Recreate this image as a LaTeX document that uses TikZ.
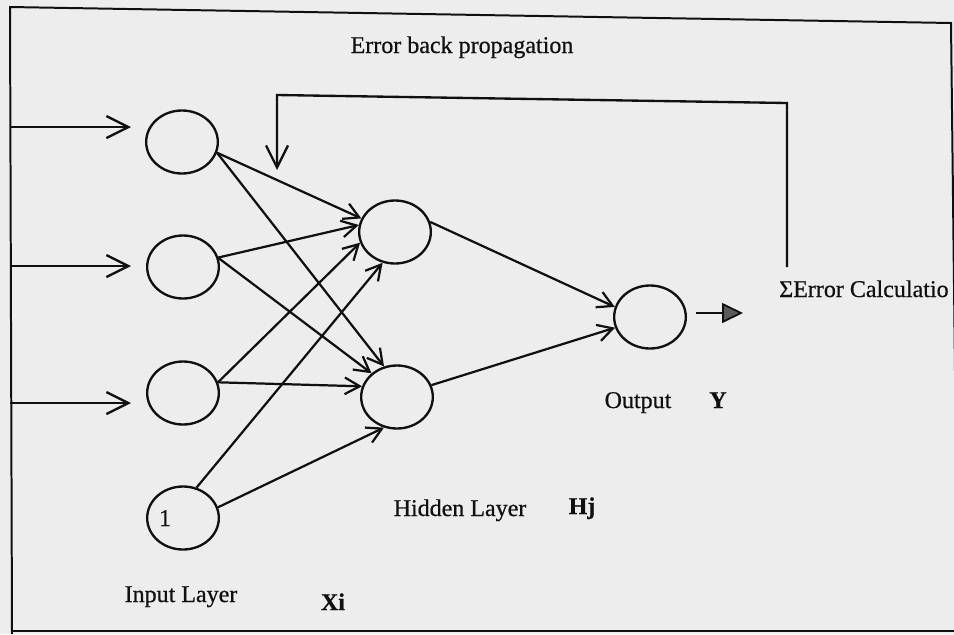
\documentclass[tikz,border=0pt]{standalone}
\usepackage{fontspec}
\setmainfont{Liberation Serif}[FakeBold=0.6]
\usetikzlibrary{arrows.meta,shapes.geometric}
\definecolor{nnink}{HTML}{101010}
\definecolor{nnpaper}{HTML}{EDEDED}
\definecolor{nngrey}{HTML}{5A5A5A}
\tikzset{
  nn text/.style={font=\fontsize{20.5}{24}\selectfont, text=nnink},
  nn unit/.style={ellipse, draw=nnink, line width=2pt, minimum width=21.5mm,
    minimum height=18.9mm, inner sep=0pt},
  nn link/.style={-{Straight Barb[length=4.5mm,width=5mm]}, line width=1.9pt, draw=nnink},
  nn feed/.style={-{Straight Barb[length=6.6mm,width=6.6mm]}, line width=2pt,
    draw=nnink, line join=miter},
  nn out/.style={-{Triangle[length=6.3mm,width=6mm,fill=nngrey]}, line width=1.5pt, draw=nnink},
  nn label/.style={anchor=base, inner sep=0pt},
  nn frame/.style={draw=nnink, line width=1.7pt}
}

\begin{document}
\begin{tikzpicture}[nn text, x=0.3mm, y=-0.3mm]
  \fill[nnpaper] (0,0) rectangle (954,634);
  \useasboundingbox (0,0) rectangle (954,634);
  \clip (0,0) rectangle (954,634);
  % page frame (scan is slightly skewed)
  \draw[nn frame] (958,634) -- (951,23) -- (10,7) -- (12,634);
  \draw[nn frame] (12,631) -- (954,631);
  % units
  \node[nn unit] (in1) at (182,142) {};
  \node[nn unit] (in2) at (183,267) {};
  \node[nn unit] (in3) at (183,393) {};
  \node[nn unit] (in4) at (183,518) {};
  \node[nn unit] (h1) at (395,232) {};
  \node[nn unit] (h2) at (397,397) {};
  \node[nn unit] (out) at (650,317) {};
  \node[nn label] (one) at (165,526) {1};
  % labels
  \node[nn label] (bp) at (462,53) {Error back propagation};
  \node[nn label, anchor=base west] (err) at (779,297) {ΣError Calculatio};
  \node[nn label] (outl) at (638,408) {Output};
  \node[nn label] (yl) at (718,408) {\bfseries Y};
  \node[nn label] (hidl) at (460,516) {Hidden Layer};
  \node[nn label] (hj) at (582,514) {\bfseries Hj};
  \node[nn label] (inl) at (181,602) {Input Layer};
  \node[nn label] (xi) at (333,610) {\bfseries Xi};
  % inputs
  \coordinate (x1) at (10,127);
  \coordinate (x2) at (10,266);
  \coordinate (x3) at (10,403);
  \draw[nn feed, shorten >=4.2mm] (x1) -- (x1 -| in1.west);
  \draw[nn feed, shorten >=4.5mm] (x2) -- (x2 -| in2.west);
  \draw[nn feed, shorten >=4.5mm] (x3) -- (x3 -| in3.west);
  % weights
  \draw[nn link] (in1.-17) -- (h1.158);
  \draw[nn link] (in1.-17) -- (h2.113);
  \draw[nn link] (in2.15) -- (h1.169);
  \draw[nn link] (in2.14) -- (h2.137);
  \draw[nn link] (in3.17) -- (h1.197);
  \draw[nn link] (in3.17) -- (h2.163);
  \draw[nn link] (in4.66) -- (h1.248);
  \draw[nn link] (in4.17) -- (h2.247);
  \draw[nn link] (h1.16) -- (out.164);
  \draw[nn link] (h2.19) -- (out.197);
  % output and error feedback
  \coordinate (yend) at (743,313);
  \draw[nn out, shorten <=2.8mm] (out.east |- yend) -- (yend);
  \coordinate (fb1) at (787,267);
  \coordinate (fb2) at (787,103);
  \coordinate (fb3) at (277,95);
  \coordinate (fb4) at (277,170);
  \draw[nn feed] (fb1) -- (fb2) -- (fb3) -- (fb4);
\end{tikzpicture}
\end{document}
